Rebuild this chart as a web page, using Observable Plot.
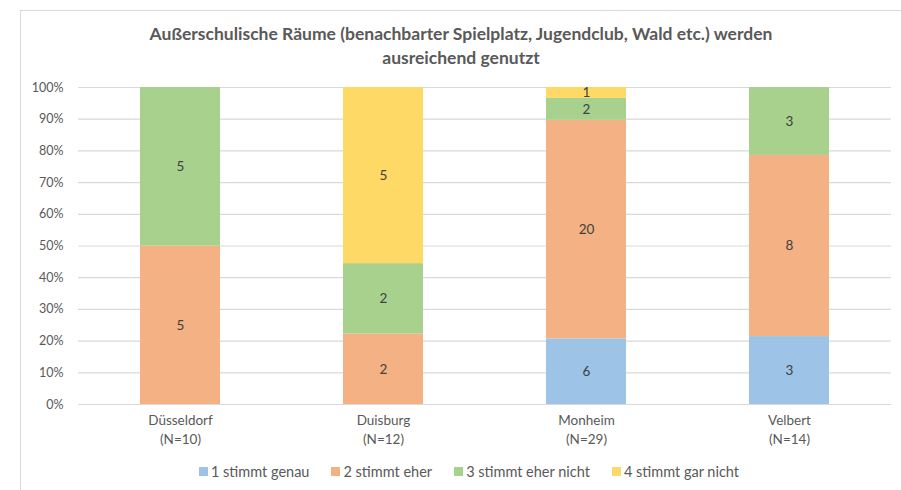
<!DOCTYPE html>
<html>
<head>
<meta charset="utf-8">
<script src="https://cdn.jsdelivr.net/npm/d3@7"></script>
<script src="https://cdn.jsdelivr.net/npm/@observablehq/plot@0.6"></script>
<style>
  body { margin: 0; background: #fff; font-family: Lato, "Open Sans", sans-serif; }
  #wrap { position: relative; width: 901px; height: 490px; overflow: hidden; }
  #frame { position: absolute; left: 20px; top: 10px; width: 900px; height: 500px; border: 1px solid #d9d9d9; box-sizing: border-box; }
  #title { position: absolute; left: 0; width: 922px; top: 22px; text-align: center; font-weight: bold; font-size: 17.5px; line-height: 24px; color: #595959; }
  #chart { position: absolute; left: 0; top: 75px; }
  #legend { position: absolute; left: 0; width: 938px; top: 463px; display: flex; justify-content: center; gap: 22px; font-size: 14.5px; color: #595959; }
  #legend .item { display: flex; align-items: center; gap: 3px; }
  #legend .sw { width: 9px; height: 9px; display: inline-block; }
</style>
</head>
<body>
<div id="wrap">
  <div id="frame"></div>
  <div id="title">Außerschulische Räume (benachbarter Spielplatz, Jugendclub, Wald etc.) werden<br>ausreichend genutzt</div>
  <div id="chart"></div>
  <div id="legend"></div>
</div>
<script>
const categories = ["Düsseldorf", "Duisburg", "Monheim", "Velbert"];
const nLabels = ["(N=10)", "(N=12)", "(N=29)", "(N=14)"];
const series = ["1 stimmt genau", "2 stimmt eher", "3 stimmt eher nicht", "4 stimmt gar nicht"];
const colors = ["#9dc3e6", "#f4b183", "#a9d18e", "#ffd966"];
const stimmtGenau = [0, 0, 6, 3];
const stimmtEher = [5, 2, 20, 8];
const stimmtEherNicht = [5, 2, 2, 3];
const stimmtGarNicht = [0, 5, 1, 0];
const yTicks = [0, 0.1, 0.2, 0.3, 0.4, 0.5, 0.6, 0.7, 0.8, 0.9, 1];

const valueSets = [stimmtGenau, stimmtEher, stimmtEherNicht, stimmtGarNicht];
const data = [];
categories.forEach((c, i) => {
  series.forEach((s, j) => {
    data.push({ city: c, series: s, value: valueSets[j][i] });
  });
});
const nonzero = data.filter(d => d.value > 0);
const labelOf = Object.fromEntries(categories.map((c, i) => [c, c + "\n" + nLabels[i]]));

const chart = Plot.plot({
  width: 901,
  height: 375,
  marginTop: 12,
  marginBottom: 46,
  marginLeft: 78,
  marginRight: 10,
  style: { fontFamily: "Lato, 'Open Sans', sans-serif", fontSize: "13px", color: "#595959", background: "transparent" },
  x: { domain: categories, paddingInner: 0.605, paddingOuter: 0.3025, label: null },
  y: { domain: [0, 1], label: null },
  color: { domain: series, range: colors },
  marks: [
    Plot.ruleY(yTicks, { stroke: "#d9d9d9", strokeWidth: 1.2 }),
    Plot.barY(nonzero, Plot.stackY({ offset: "normalize", order: series, x: "city", y: "value", z: "series", fill: "series" })),
    Plot.text(nonzero, Plot.stackY({ offset: "normalize", order: series, x: "city", y: "value", z: "series", text: d => String(d.value), fill: "#404040", fontSize: 13.5 })),
    Plot.axisY(yTicks, { tickSize: 0, tickPadding: 15, tickFormat: d3.format(".0%"), fontSize: 12.5, fill: "#595959", label: null }),
    Plot.axisX({ tickSize: 0, tickPadding: 8, tickFormat: d => labelOf[d], lineHeight: 1.35, fontSize: 13.5, fill: "#595959", label: null })
  ]
});
document.getElementById("chart").appendChild(chart);

const legend = document.getElementById("legend");
series.forEach((s, j) => {
  const item = document.createElement("span");
  item.className = "item";
  const sw = document.createElement("span");
  sw.className = "sw";
  sw.style.background = colors[j];
  const t = document.createElement("span");
  t.textContent = s;
  item.appendChild(sw);
  item.appendChild(t);
  legend.appendChild(item);
});
</script>
</body>
</html>
